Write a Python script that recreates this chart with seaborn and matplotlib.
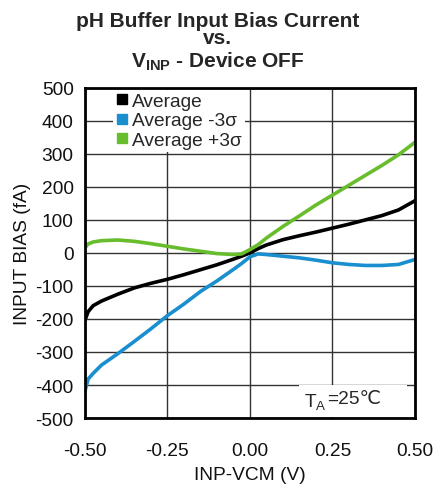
import matplotlib
matplotlib.use("Agg")
import matplotlib.pyplot as plt
import seaborn as sns
import pandas as pd
from matplotlib.lines import Line2D
from matplotlib.patches import Rectangle

# Input bias current (fA) versus INP-VCM (V), device off, TA = 25 C
vinp = [-0.50, -0.49, -0.475, -0.45, -0.40, -0.35, -0.30, -0.25, -0.20, -0.15,
        -0.10, -0.05, -0.025, 0.00, 0.025, 0.05, 0.10, 0.15, 0.20, 0.25,
        0.30, 0.35, 0.40, 0.45, 0.50]
avg = [-205, -178, -160, -146, -125, -106, -92, -80, -66, -51,
       -36, -19, -10, 0, 13, 24, 40, 52, 63, 75,
       87, 100, 113, 130, 158]
avg_minus = [-420, -382, -365, -340, -305, -268, -230, -190, -155, -117,
             -85, -50, -32, -12, -3, -5, -10, -15, -22, -30,
             -35, -38, -38, -35, -20]
avg_plus = [15, 27, 33, 37, 39, 35, 28, 20, 12, 5,
            -2, -5, -3, 10, 25, 45, 80, 112, 145, 175,
            205, 235, 265, 297, 335]

series_names = ["Average", "Average -3\u03c3", "Average +3\u03c3"]
series_colors = ["#000000", "#1a8fcf", "#67bd2c"]

x_ticks = [-0.50, -0.25, 0.00, 0.25, 0.50]
y_ticks = list(range(-500, 501, 100))

df = pd.concat([
    pd.DataFrame({"v": vinp, "ib": avg, "series": series_names[0]}),
    pd.DataFrame({"v": vinp, "ib": avg_minus, "series": series_names[1]}),
    pd.DataFrame({"v": vinp, "ib": avg_plus, "series": series_names[2]}),
])

sns.set_theme(style="white")
plt.rcParams["font.family"] = ["Liberation Sans", "DejaVu Sans"]
plt.rcParams["mathtext.fontset"] = "custom"
plt.rcParams["mathtext.rm"] = "Liberation Sans"
plt.rcParams["mathtext.it"] = "Liberation Sans:italic"
plt.rcParams["mathtext.bf"] = "Liberation Sans:bold"

FS = 13.8

fig = plt.figure(figsize=(4.35, 4.85), dpi=100)
ax = fig.add_axes([0.195, 0.136, 0.759, 0.681])

sns.lineplot(data=df, x="v", y="ib", hue="series", hue_order=series_names,
             palette=series_colors, linewidth=2.6, ax=ax, legend=False,
             sort=False, estimator=None)

ax.set_xlim(-0.5, 0.5)
ax.set_ylim(-500, 500)
ax.set_xticks(x_ticks)
ax.set_xticklabels([f"{t:.2f}" for t in x_ticks])
ax.set_yticks(y_ticks)
ax.set_yticklabels([str(t) for t in y_ticks])
ax.tick_params(axis="both", labelsize=FS, colors="#111111", length=0)
ax.tick_params(axis="x", pad=17)
ax.tick_params(axis="y", pad=8)
ax.grid(True, color="#333333", linewidth=1.0)
ax.set_axisbelow(True)
for s in ax.spines.values():
    s.set_color("black")
    s.set_linewidth(2.0)

ax.set_xlabel("INP-VCM (V)", fontsize=FS, color="#111111", labelpad=5)
ax.set_ylabel("INPUT BIAS (fA)", fontsize=FS, color="#111111", labelpad=3)

title_kw = dict(ha="center", fontsize=15, fontweight="bold")
fig.text(0.5, 0.976, "pH Buffer Input Bias Current\nvs.", va="top",
         linespacing=0.9, **title_kw)
fig.text(0.5, 0.861, r"$\mathbf{V_{INP}}$ - Device OFF", va="baseline",
         **title_kw)

handles = [Line2D([], [], marker="s", linestyle="none", markersize=7,
                  markerfacecolor=c, markeredgecolor=c) for c in series_colors]
leg = ax.legend(handles, series_names, loc="upper left",
                bbox_to_anchor=(0.08, 1.0), frameon=True, fancybox=False,
                framealpha=1.0, edgecolor="white", fontsize=FS,
                handletextpad=0.25, handlelength=0.6, borderpad=0.15,
                labelspacing=0.1, borderaxespad=0.1)
leg.get_frame().set_linewidth(0)

# temperature note on a white panel in the lower right corner
ax.add_patch(Rectangle((0.65, 0.004), 0.327, 0.096, transform=ax.transAxes,
                       facecolor="white", edgecolor="none", zorder=3))
ta = ax.text(0.665, 0.035, r"T$_\mathregular{A}$", transform=ax.transAxes,
             ha="left", va="baseline", fontsize=FS, zorder=4)
ax.annotate("=25\u2103", xy=(1.0, 0.0), xycoords=ta, xytext=(0, 3.2),
            textcoords="offset points", ha="left", va="bottom", fontsize=FS,
            zorder=4, annotation_clip=False)

fig.savefig("out.png", dpi=100, facecolor="white")
